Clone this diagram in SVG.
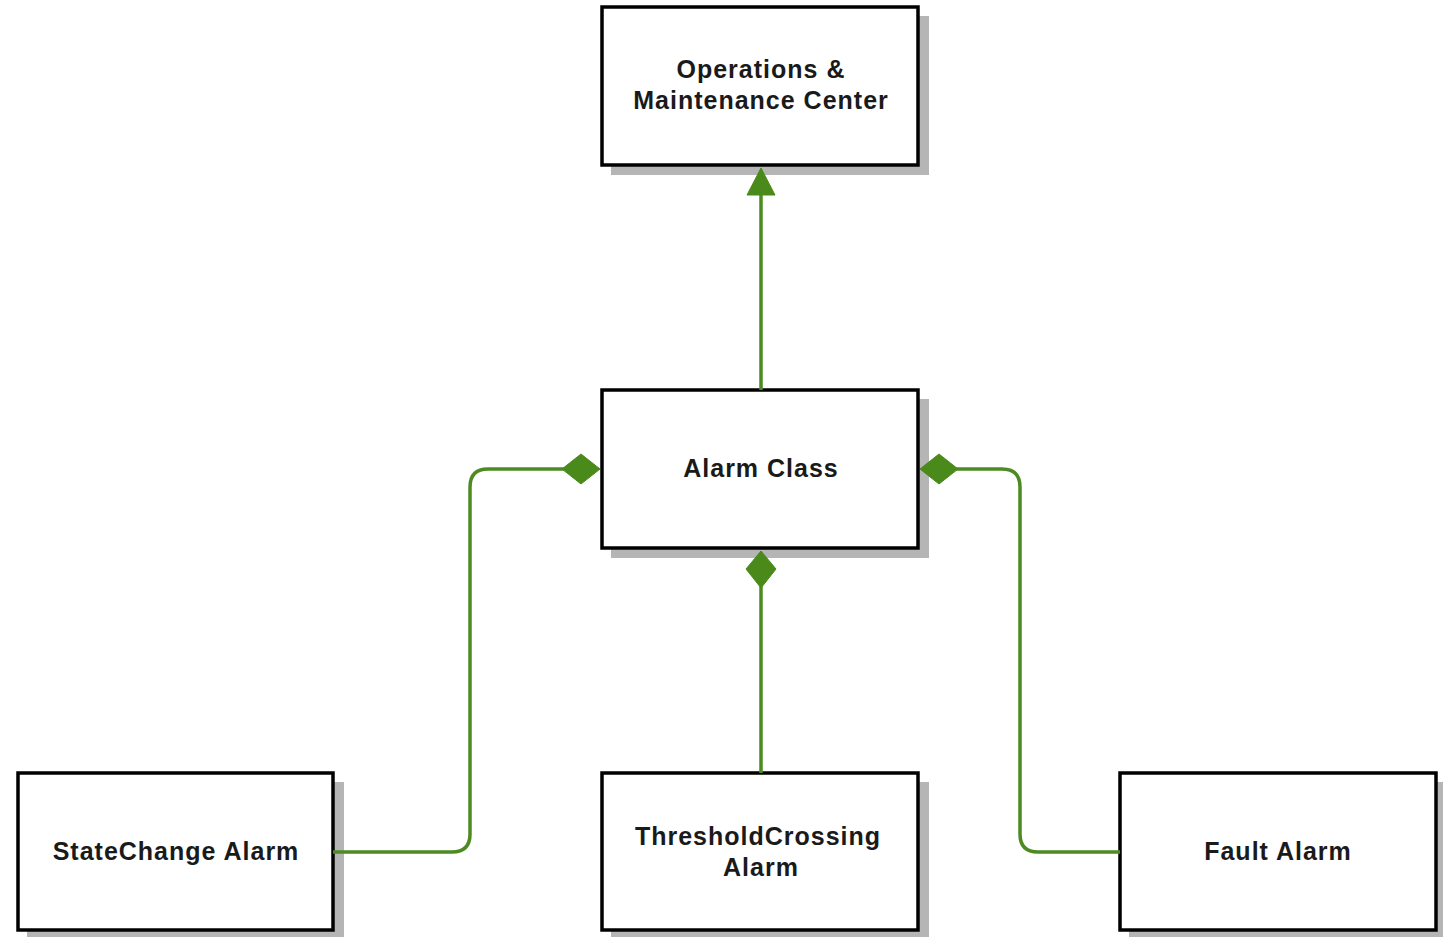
<svg xmlns="http://www.w3.org/2000/svg" width="1443" height="937" viewBox="0 0 1443 937">
  <style>
    .box { fill: #ffffff; stroke: #000000; stroke-width: 3.5; }
    .shadow { fill: #b5b5b5; }
    .label { font-family: "Liberation Sans", Arial, sans-serif; font-weight: bold; font-size: 25px; letter-spacing: 1px; fill: #1a1a1a; text-anchor: middle; }
    .link { fill: none; stroke: #4d8a22; stroke-width: 3.5; }
    .head { fill: #4a8a1a; stroke: #4a8a1a; stroke-width: 1; }
  </style>
  <rect width="1443" height="937" fill="#ffffff"/>

  <g id="om-center">
    <rect class="shadow" x="611" y="16" width="318" height="159"/>
    <rect class="box" x="602" y="7" width="316" height="158"/>
    <text class="label" x="761" y="78">Operations &amp;</text>
    <text class="label" x="761" y="109">Maintenance Center</text>
  </g>

  <g id="alarm-class">
    <rect class="shadow" x="611" y="399" width="318" height="159"/>
    <rect class="box" x="602" y="390" width="316" height="158"/>
    <text class="label" x="761" y="477">Alarm Class</text>
  </g>

  <g id="statechange-alarm">
    <rect class="shadow" x="27" y="782" width="317" height="158"/>
    <rect class="box" x="18" y="773" width="315" height="157"/>
    <text class="label" x="176" y="860">StateChange Alarm</text>
  </g>

  <g id="thresholdcrossing-alarm">
    <rect class="shadow" x="611" y="782" width="318" height="158"/>
    <rect class="box" x="602" y="773" width="316" height="157"/>
    <text class="label" x="758" y="845">ThresholdCrossing</text>
    <text class="label" x="761" y="876">Alarm</text>
  </g>

  <g id="fault-alarm">
    <rect class="shadow" x="1129" y="782" width="314" height="158"/>
    <rect class="box" x="1120" y="773" width="316" height="157"/>
    <text class="label" x="1278" y="860">Fault Alarm</text>
  </g>

  <!-- connectors drawn above the drop shadows -->
  <g id="connectors">
    <!-- Alarm Class to O&M Center, filled arrow -->
    <path class="link" d="M761 390 V194"/>
    <polygon class="head" points="761,168 775,195 747,195"/>
    <!-- StateChange composition -->
    <path class="link" d="M333 852 H452 Q470 852 470 834 V487 Q470 469 488 469 H564"/>
    <polygon class="head" points="600,469 581,454 562,469 581,484"/>
    <!-- ThresholdCrossing composition -->
    <path class="link" d="M761 773 V586"/>
    <polygon class="head" points="761,551 776,569 761,588 746,569"/>
    <!-- Fault composition -->
    <path class="link" d="M1120 852 H1038 Q1020 852 1020 834 V487 Q1020 469 1002 469 H956"/>
    <polygon class="head" points="920,469 939,454 958,469 939,484"/>
  </g>
</svg>
